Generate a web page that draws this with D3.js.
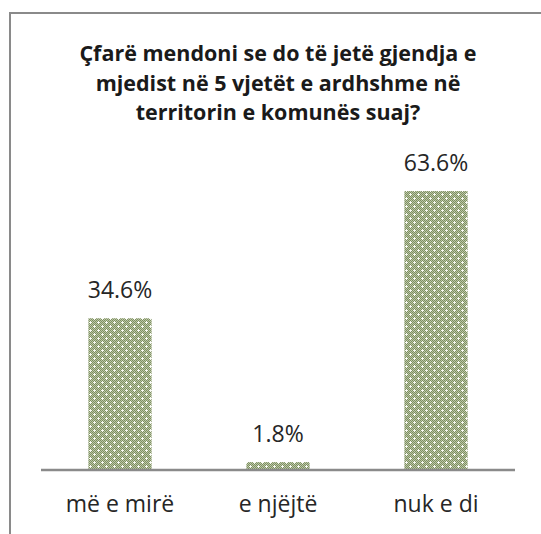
<!DOCTYPE html>
<html>
<head>
<meta charset="utf-8">
<script src="https://cdn.jsdelivr.net/npm/d3@7"></script>
<style>
  body { margin: 0; background: #fff; }
  svg { display: block; }
</style>
</head>
<body>
<svg id="chart" width="541" height="534"></svg>
<script>
// data
var categories = ["më e mirë", "e njëjtë", "nuk e di"];
var values = [34.6, 1.8, 63.6];
var valueLabels = ["34.6%", "1.8%", "63.6%"];
var titleLines = ["Çfarë mendoni se do të jetë gjendja e", "mjedist në 5 vjetët e ardhshme në", "territorin e komunës suaj?"];

var svg = d3.select("#chart");
var W = 541, H = 534;
var margin = {left: 41, right: 26, top: 163, bottom: 64};

svg.append("rect").attr("width", W).attr("height", H).attr("fill", "#fff");

// outer frame, cut off at right and bottom like the reference
svg.append("rect")
  .attr("x", 10).attr("y", 13)
  .attr("width", 560).attr("height", 560)
  .attr("fill", "none")
  .attr("stroke", "#8a8a8a")
  .attr("stroke-width", 2);

// dotted green fill
var defs = svg.append("defs");
var pat = defs.append("pattern")
  .attr("id", "dots")
  .attr("patternUnits", "userSpaceOnUse")
  .attr("width", 8).attr("height", 8);
pat.append("rect").attr("width", 8).attr("height", 8).attr("fill", "#bcc7a8");
for (var i = 0; i < 8; i++) {
  for (var j = 0; j < 8; j++) {
    if ((i + j) % 2 == 0) {
      pat.append("rect").attr("x", i).attr("y", j).attr("width", 1).attr("height", 1).attr("fill", "#7d8f60");
    }
  }
}
// white sparkle spots
[[2, 2], [6, 6]].forEach(function(p) {
  pat.append("rect").attr("x", p[0] - 1).attr("y", p[1]).attr("width", 3).attr("height", 1).attr("fill", "#f7f9f2");
  pat.append("rect").attr("x", p[0]).attr("y", p[1] - 1).attr("width", 1).attr("height", 3).attr("fill", "#f7f9f2");
});

var x = d3.scaleBand()
  .domain(categories)
  .range([margin.left, W - margin.right])
  .paddingInner(0.6)
  .paddingOuter(0.3);

var y = d3.scaleLinear()
  .domain([0, 70])
  .range([H - margin.bottom, margin.top]);

// title
var title = svg.append("text")
  .attr("x", 278)
  .attr("text-anchor", "middle")
  .attr("font-family", "'Open Sans', sans-serif")
  .attr("font-weight", "bold")
  .attr("font-size", 21.5)
  .attr("fill", "#1a1a1a");
title.selectAll("tspan").data(titleLines).enter().append("tspan")
  .attr("x", 278)
  .attr("y", function(d, i) { return 61 + i * 29.5; })
  .text(function(d) { return d; });

// bars
svg.selectAll(".bar").data(values).enter().append("rect")
  .attr("class", "bar")
  .attr("x", function(d, i) { return x(categories[i]); })
  .attr("width", x.bandwidth())
  .attr("y", function(d) { return y(d); })
  .attr("height", function(d) { return y(0) - y(d); })
  .attr("fill", "url(#dots)");

// value labels
svg.selectAll(".val").data(values).enter().append("text")
  .attr("class", "val")
  .attr("x", function(d, i) { return x(categories[i]) + x.bandwidth() / 2; })
  .attr("y", function(d) { return y(d) - 20; })
  .attr("text-anchor", "middle")
  .attr("font-family", "'Open Sans', sans-serif")
  .attr("font-size", 23)
  .attr("fill", "#262626")
  .text(function(d, i) { return valueLabels[i]; });

// x axis
var xAxis = svg.append("g")
  .attr("transform", "translate(0," + y(0) + ")")
  .call(d3.axisBottom(x).tickSize(0).tickPadding(0));
xAxis.select(".domain").attr("stroke", "#8a8a8a").attr("stroke-width", 2.5)
  .attr("d", "M" + margin.left + ",0H" + (W - margin.right));
xAxis.selectAll(".tick text")
  .attr("dy", 0)
  .attr("y", 42)
  .attr("font-family", "'Open Sans', sans-serif")
  .attr("font-size", 23)
  .attr("fill", "#262626");
</script>
</body>
</html>
